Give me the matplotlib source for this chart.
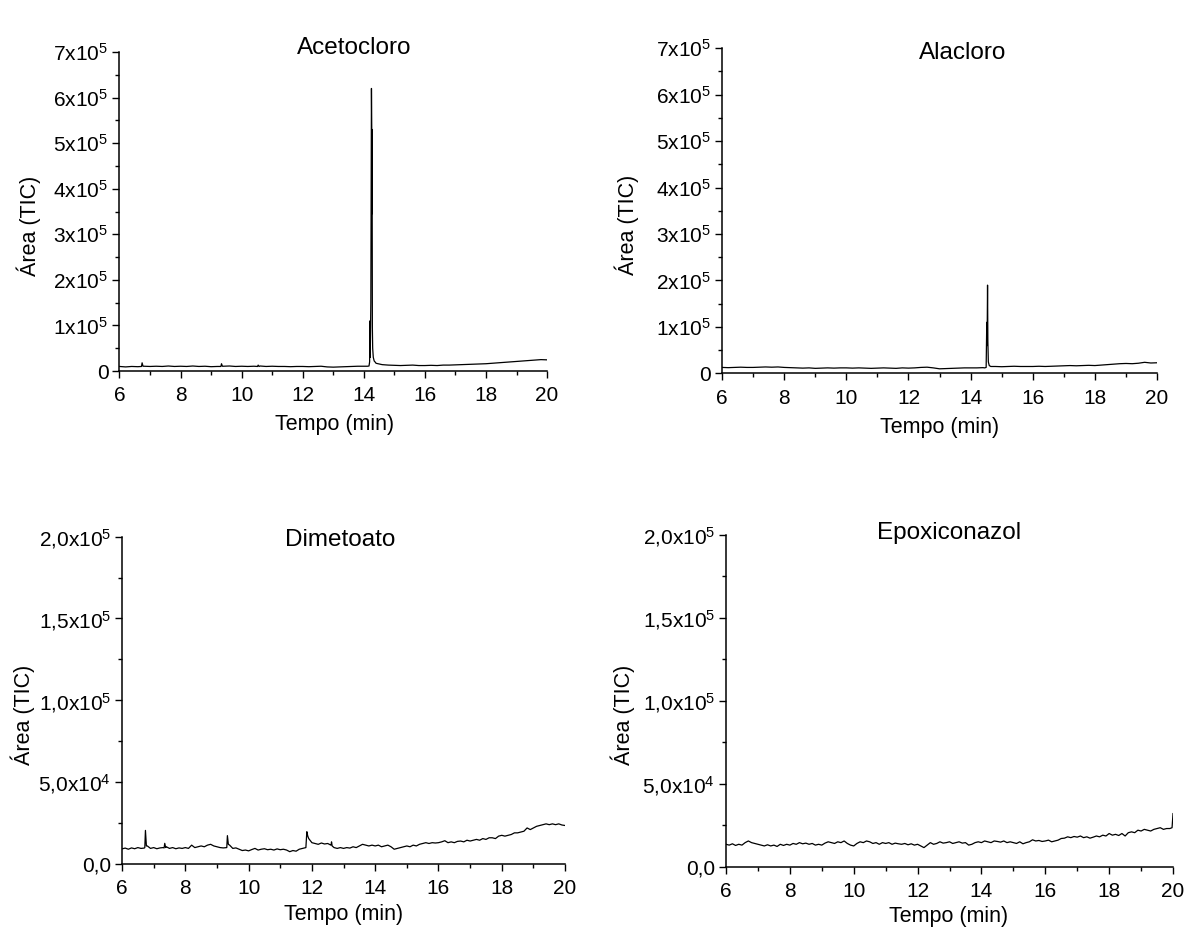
import numpy as np
import matplotlib
matplotlib.use("Agg")
import matplotlib.pyplot as plt
from matplotlib.ticker import MultipleLocator

plt.rcParams['font.family'] = ['Liberation Sans', 'DejaVu Sans']
plt.rcParams['mathtext.fontset'] = 'custom'
plt.rcParams['mathtext.rm'] = 'Liberation Sans'
plt.rcParams['mathtext.it'] = 'Liberation Sans:italic'

# time grids (min)
t_coarse = np.round(np.linspace(6, 20, 71), 2)   # 0.2 min
t_fine = np.round(np.linspace(6, 20, 141), 2)    # 0.1 min

# --- Acetocloro (values x1e4) ---
aceto_base = [1.0, 0.9, 1.0, 0.95, 1.05, 1.0, 1.05, 1.0, 1.1, 1.0,
              1.05, 1.0, 1.1, 1.0, 1.05, 0.95, 1.0, 1.05, 1.1, 1.0,
              1.05, 1.0, 1.05, 1.1, 1.0, 1.05, 1.0, 1.0, 0.95, 1.0,
              1.0, 0.95, 1.0, 1.05, 0.9, 0.85, 0.9, 0.95, 1.0, 1.05,
              1.05, 1.1, 1.7, 1.4, 1.3, 1.25, 1.2, 1.25, 1.3, 1.2,
              1.2, 1.25, 1.2, 1.3, 1.3, 1.35, 1.4, 1.45, 1.5, 1.55,
              1.6, 1.7, 1.8, 1.9, 2.0, 2.1, 2.2, 2.3, 2.4, 2.5,
              2.45]
aceto_peaks = [
    ([6.72, 6.74, 6.77], [1.0, 1.8, 1.05]),
    ([9.32, 9.34, 9.37], [1.0, 1.6, 1.05]),
    ([10.52, 10.54, 10.57], [1.0, 1.3, 1.0]),
    ([14.12, 14.17, 14.19, 14.20, 14.21, 14.23, 14.25, 14.26, 14.265, 14.27,
      14.28, 14.29, 14.31, 14.34, 14.38],
     [1.05, 1.1, 2.0, 11.0, 3.0, 15.0, 62.0, 53.0, 34.5, 53.0,
      9.5, 5.0, 3.0, 2.2, 1.9]),
]

# --- Alacloro (values x1e4) ---
ala_base = [1.3, 1.25, 1.3, 1.35, 1.3, 1.3, 1.35, 1.4, 1.35, 1.4,
            1.3, 1.25, 1.2, 1.15, 1.2, 1.1, 1.15, 1.2, 1.15, 1.2,
            1.2, 1.15, 1.2, 1.15, 1.1, 1.15, 1.2, 1.15, 1.1, 1.2,
            1.15, 1.2, 1.3, 1.35, 1.2, 1.0, 1.05, 1.1, 1.15, 1.2,
            1.2, 1.2, 1.25, 1.4, 1.5, 1.45, 1.5, 1.55, 1.5, 1.5,
            1.5, 1.55, 1.5, 1.55, 1.6, 1.65, 1.7, 1.65, 1.7, 1.75,
            1.7, 1.8, 1.9, 2.0, 2.1, 2.15, 2.1, 2.2, 2.4, 2.25,
            2.3]
ala_peaks = [
    ([14.45, 14.50, 14.52, 14.53, 14.545, 14.555, 14.57, 14.60, 14.65],
     [1.2, 1.3, 11.0, 6.0, 19.0, 7.0, 2.5, 1.7, 1.5]),
]

# --- Dimetoato (values x1e4) ---
dime_base = [0.92, 0.97, 0.9, 0.98, 0.93, 1.0, 0.95, 0.97, 1.1, 0.95,
             1.0, 0.93, 0.98, 1.0, 1.05, 0.95, 1.0, 0.93, 0.98, 0.95,
             1.0, 0.95, 1.15, 1.0, 1.05, 1.1, 1.05, 1.15, 1.2, 1.1,
             1.05, 1.0, 0.98, 1.0, 1.15, 0.95, 0.98, 0.9, 0.82, 0.85,
             0.8, 0.88, 0.95, 0.85, 0.9, 0.93, 0.87, 0.9, 0.85, 0.92,
             0.87, 0.9, 0.85, 0.75, 0.82, 0.78, 0.9, 0.95, 1.0, 1.55,
             1.3, 1.25, 1.2, 1.28, 1.22, 1.25, 1.15, 1.0, 0.95, 1.0,
             0.95, 1.0, 0.97, 1.05, 1.0, 1.1, 1.2, 1.15, 1.1, 1.15,
             1.1, 1.15, 1.05, 1.1, 1.15, 1.05, 0.9, 0.95, 1.0, 1.05,
             1.1, 1.05, 1.15, 1.1, 1.2, 1.25, 1.3, 1.25, 1.3, 1.28,
             1.3, 1.35, 1.42, 1.3, 1.35, 1.3, 1.38, 1.4, 1.35, 1.45,
             1.4, 1.45, 1.5, 1.45, 1.55, 1.5, 1.6, 1.6, 1.55, 1.7,
             1.75, 1.7, 1.75, 1.8, 1.9, 1.9, 1.95, 2.0, 2.2, 2.1,
             2.2, 2.3, 2.35, 2.4, 2.45, 2.4, 2.45, 2.4, 2.45, 2.38,
             2.35]
dime_peaks = [
    ([6.72, 6.74, 6.77], [1.0, 2.05, 1.1]),
    ([7.33, 7.35, 7.38], [0.98, 1.26, 1.0]),
    ([9.31, 9.33, 9.36], [1.0, 1.73, 1.2]),
    ([11.81, 11.84, 11.87], [1.0, 1.97, 1.7]),
    ([12.61, 12.62, 12.64], [1.2, 1.35, 1.1]),
]

# --- Epoxiconazol (values x1e4) ---
epox_base = [1.35, 1.3, 1.38, 1.28, 1.35, 1.3, 1.45, 1.55, 1.45, 1.4,
             1.35, 1.3, 1.25, 1.32, 1.25, 1.3, 1.22, 1.35, 1.28, 1.35,
             1.3, 1.4, 1.35, 1.45, 1.38, 1.42, 1.35, 1.4, 1.3, 1.35,
             1.3, 1.42, 1.5, 1.45, 1.4, 1.5, 1.45, 1.55, 1.4, 1.3,
             1.25, 1.4, 1.5, 1.45, 1.55, 1.5, 1.4, 1.45, 1.35, 1.45,
             1.4, 1.45, 1.35, 1.42, 1.38, 1.35, 1.4, 1.32, 1.38, 1.3,
             1.35, 1.25, 1.15, 1.3, 1.45, 1.35, 1.4, 1.5, 1.42, 1.45,
             1.5, 1.4, 1.45, 1.5, 1.42, 1.45, 1.3, 1.35, 1.45, 1.5,
             1.45, 1.55, 1.5, 1.45, 1.55, 1.52, 1.48, 1.55, 1.45, 1.5,
             1.45, 1.4, 1.5, 1.38, 1.45, 1.5, 1.62, 1.55, 1.58, 1.52,
             1.55, 1.6, 1.5, 1.55, 1.6, 1.7, 1.72, 1.8, 1.75, 1.82,
             1.78, 1.85, 1.75, 1.8, 1.72, 1.78, 1.85, 1.8, 1.9, 1.85,
             2.0, 1.9, 1.95, 1.88, 2.0, 1.85, 2.05, 2.1, 2.05, 2.2,
             2.15, 2.25, 2.2, 2.15, 2.25, 2.3, 2.35, 2.25, 2.3, 2.3,
             3.2]
epox_peaks = [([19.97], [2.35])]

titles = ["Acetocloro", "Alacloro", "Dimetoato", "Epoxiconazol"]
xticks = [6, 8, 10, 12, 14, 16, 18, 20]
yticks_top = [0, 1e5, 2e5, 3e5, 4e5, 5e5, 6e5, 7e5]
ylabels_top = ["0", "1x10$^{5}$", "2x10$^{5}$", "3x10$^{5}$", "4x10$^{5}$",
               "5x10$^{5}$", "6x10$^{5}$", "7x10$^{5}$"]
yticks_bot = [0, 5e4, 1e5, 1.5e5, 2e5]
ylabels_bot = ["0,0", "5,0x10$^{4}$", "1,0x10$^{5}$", "1,5x10$^{5}$", "2,0x10$^{5}$"]


def merge(t, y, peaks):
    t = np.asarray(t, float)
    y = np.asarray(y, float)
    for pt, py in peaks:
        keep = (t < pt[0]) | (t > pt[-1])
        t = np.concatenate([t[keep], pt])
        y = np.concatenate([y[keep], py])
        o = np.argsort(t, kind="stable")
        t, y = t[o], y[o]
    return t, y * 1e4


series = [merge(t_coarse, aceto_base, aceto_peaks),
          merge(t_coarse, ala_base, ala_peaks),
          merge(t_fine, dime_base, dime_peaks),
          merge(t_fine, epox_base, epox_peaks)]

# axes rectangles [left, bottom, width, height]
rects = [[0.0995, 0.6053, 0.3560, 0.3394],
         [0.6012, 0.6027, 0.3622, 0.3462],
         [0.1016, 0.0809, 0.3689, 0.3482],
         [0.6045, 0.0780, 0.3722, 0.3529]]
# label centres in axes fractions
title_pos = [(0.549, 1.013), (0.552, 0.985), (0.492, 0.991), (0.499, 1.006)]
ylab_pos = [(-0.212, 0.455), (-0.218, 0.456), (-0.223, 0.456), (-0.230, 0.457)]
xlab_pos = [(0.504, -0.169), (0.501, -0.167), (0.501, -0.153), (0.497, -0.149)]

fig = plt.figure(figsize=(12.01, 9.4), dpi=100)
fig.patch.set_facecolor("white")

for i in range(4):
    ax = fig.add_axes(rects[i])
    t, y = series[i]
    ax.plot(t, y, color="black", lw=0.9)
    ax.set_xlim(6, 20)
    ax.set_xticks(xticks)
    ax.xaxis.set_minor_locator(MultipleLocator(1))
    if i < 2:
        ax.set_ylim(0, 7e5)
        ax.set_yticks(yticks_top)
        ax.set_yticklabels(ylabels_top)
        ax.yaxis.set_minor_locator(MultipleLocator(0.5e5))
    else:
        ax.set_ylim(0, 2e5)
        ax.set_yticks(yticks_bot)
        ax.set_yticklabels(ylabels_bot)
        ax.yaxis.set_minor_locator(MultipleLocator(2.5e4))
    for s in ["top", "right"]:
        ax.spines[s].set_visible(False)
    for s in ["left", "bottom"]:
        ax.spines[s].set_linewidth(1.1)
    ax.tick_params(which="major", direction="out", length=5, width=1.0,
                   labelsize=15, pad=3)
    ax.tick_params(axis="x", which="major", pad=6)
    ax.tick_params(which="minor", direction="out", length=3, width=1.0)
    ax.set_xlabel("Tempo (min)", fontsize=15.5, va="center")
    ax.set_ylabel("Área (TIC)", fontsize=15.5, va="center")
    ax.xaxis.set_label_coords(*xlab_pos[i])
    ax.yaxis.set_label_coords(*ylab_pos[i])
    ax.text(title_pos[i][0], title_pos[i][1], titles[i], transform=ax.transAxes,
            ha="center", va="center", fontsize=17.5)
    ax.patch.set_alpha(0)

fig.savefig("out.png", dpi=100, facecolor="white")
